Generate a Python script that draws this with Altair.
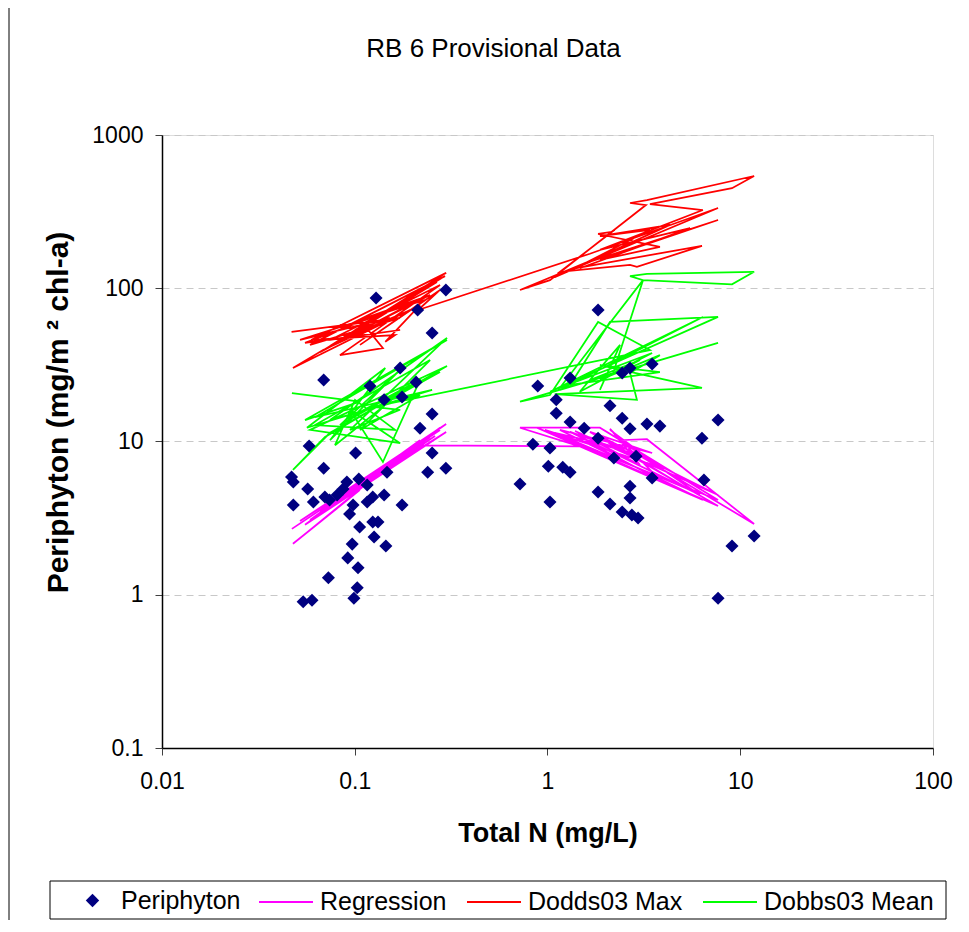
import altair as alt
import pandas as pd

FONT = "Liberation Sans"

# ---- Periphyton observations (Total N mg/L, chl-a mg/m2) ----
peri_x = [0.218, 0.058, 0.101, 0.252, 0.297, 0.239, 0.069, 0.147, 0.047, 0.048,
          0.057, 0.091, 0.105, 0.116, 0.087, 0.081, 0.070, 0.074, 0.061, 0.048,
          0.116, 0.124, 0.142, 0.176, 0.098, 0.094, 0.106, 0.124, 0.132, 0.126,
          0.145, 0.097, 0.092, 0.104, 0.073, 0.103, 0.099, 0.054, 0.060, 0.129,
          0.297, 0.212, 0.252, 0.069, 0.172, 0.120, 0.208, 0.142, 0.176, 0.252,
          0.89, 1.31, 1.11, 1.11, 1.31, 1.55, 1.83, 2.11, 2.44, 2.68,
          2.44, 2.68, 3.49, 3.28, 3.83, 7.67, 6.33, 0.84, 1.03, 1.01,
          1.20, 1.31, 2.21, 2.88, 3.49, 6.48, 0.72, 1.03, 1.83, 2.11,
          2.68, 2.68, 2.44, 2.74, 2.95, 11.8, 9.06, 7.67, 1.83]
peri_y = [12.2, 9.35, 8.4, 8.4, 6.7, 6.3, 6.7, 6.3, 5.87, 5.44,
          4.9, 5.44, 5.7, 5.2, 4.9, 4.48, 4.35, 4.15, 4.03, 3.85,
          4.03, 4.35, 4.48, 3.85, 3.85, 3.36, 2.77, 2.98, 2.98, 2.38,
          2.08, 2.14, 1.74, 1.50, 1.29, 1.11, 0.95, 0.90, 0.92, 86.4,
          97.5, 72.1, 51.0, 25.2, 30.2, 23.0, 24.4, 18.7, 19.5, 15.1,
          23.0, 26.0, 18.7, 15.3, 13.4, 12.2, 10.5, 17.1, 14.2, 12.1,
          28.0, 30.2, 32.0, 13.0, 12.6, 13.8, 10.5, 9.6, 9.07, 6.9,
          6.8, 6.3, 7.8, 8.0, 5.78, 5.6, 5.28, 4.03, 4.68, 3.91,
          5.1, 4.28, 3.47, 3.31, 3.17, 2.42, 2.08, 0.95, 72.1]

# ---- Regression line (in data order) ----
reg_x = [0.0472, 0.277, 0.052, 0.298, 0.0586, 0.218, 0.0478, 0.1065, 0.0744, 0.298,
         0.0552, 0.172, 0.0838, 0.246, 0.066, 0.135, 0.0945, 0.277, 0.0622, 0.194,
         0.089, 0.152, 0.0701, 0.261, 0.1003, 0.226,
         1.47, 0.72, 1.87, 7.67, 0.881, 6.40, 1.16, 3.49, 1.66, 7.67,
         0.97, 3.83, 2.11, 3.40, 1.31, 6.18, 2.38, 3.28, 11.8, 2.68,
         1.09, 5.49, 1.87, 7.67, 1.39, 3.02, 2.11, 3.83, 1.56, 3.02]
reg_y = [2.69, 11.9, 3.03, 13.0, 3.08, 10.2, 2.15, 4.83, 3.85, 11.55,
         2.86, 8.16, 4.15, 10.7, 3.47, 6.52, 4.48, 12.3, 3.17, 9.07,
         4.28, 7.35, 3.57, 10.85, 4.83, 9.45,
         9.3, 12.3, 12.3, 4.15, 12.3, 4.15, 11.9, 8.41, 11.55, 3.79,
         11.9, 6.82, 11.9, 7.57, 11.55, 4.48, 10.2, 10.35, 2.90, 8.80,
         11.4, 4.83, 10.85, 4.48, 11.7, 7.02, 12.1, 5.61, 10.2, 8.16]

# ---- Dodds03 Max ----
max_x = [0.047, 0.172, 0.0586, 0.294, 0.066, 0.213, 0.0552, 0.172, 0.0744, 0.277,
         0.0838, 0.140, 0.1065, 0.246, 0.0744, 0.298, 0.0593, 0.162, 0.144, 0.218,
         0.0478, 0.0685, 0.194, 0.089, 0.267, 0.1003, 0.152, 0.052, 0.231, 0.1065,
         0.277, 0.213,
         1.66, 7.67, 1.66, 7.67, 1.87, 3.83, 1.83, 2.16, 1.16, 2.68,
         2.91, 6.33, 1.39, 3.40, 1.87, 4.32, 1.09, 3.02, 0.72, 1.03,
         3.24, 2.68, 3.28, 11.8, 9.06, 3.40, 6.40, 1.87, 5.49, 1.47]
max_y = [52, 64, 42.7, 120, 38.3, 83.8, 44, 53.4, 46, 105,
         36.6, 40.7, 62.1, 90.4, 42.0, 126, 46, 49.5, 44.7, 77.7,
         30.2, 39.5, 72.1, 47.4, 110, 53.4, 64.0, 46, 83.8, 42.7,
         97.5, 72.1,
         168, 334, 149, 279, 153, 186, 226, 233, 128, 142,
         138, 189, 135, 240, 219, 259, 118, 206, 97.5, 113,
         349, 360, 376, 540, 450, 354, 324, 178, 247, 135]

# ---- Dobbs03 Mean ----
mean_x = [0.0472, 0.1065, 0.0552, 0.301, 0.0622, 0.252, 0.0565, 0.144, 0.0744, 0.176,
          0.0838, 0.218, 0.140, 0.0945, 0.172, 0.0586, 0.301, 0.0701, 0.0478, 0.0744,
          0.277, 0.089, 0.194, 0.079, 0.1003, 0.162, 0.0622, 0.246, 0.1065, 0.218,
          0.0744, 0.301, 0.0945, 0.172, 0.124,
          3.40, 1.83, 1.03, 0.72, 7.67, 1.16, 6.40, 1.03, 7.67, 2.11,
          1.31, 3.83, 1.87, 6.33, 1.09, 2.91, 2.68, 3.83, 1.87, 3.49,
          1.16, 3.13, 2.68, 3.28, 11.8, 9.06, 3.13, 2.19, 1.66, 3.02,
          1.47, 2.38, 1.87]
mean_y = [20.7, 18.2, 13.8, 46, 14.4, 21.7, 12.3, 30.2, 10.2, 30.2,
          12.8, 25.2, 7.35, 16.1, 9.75, 11.9, 31.1, 10.7, 6.52, 11.4,
          28.4, 13.8, 23.4, 9.46, 18.7, 11.9, 12.8, 34.0, 11.9, 20.1,
          13.8, 47.4, 11.9, 16.1, 16.8,
          39.5, 60.3, 20.1, 18.2, 44.0, 21.7, 65.0, 21.1, 65.0, 60.3,
          23.4, 28.4, 31.5, 22.4, 20.4, 18.7, 28.0, 36.6, 25.2, 37.8,
          22.4, 113, 120, 124, 128, 106, 113, 28.0, 25.2, 34.0,
          21.1, 42.7, 21.7]

series_names = ["Regression", "Dodds03 Max", "Dobbs03 Mean"]
series_colors = ["#FF00FF", "#FF0000", "#00FF00"]
x_ticks = [0.01, 0.1, 1, 10, 100]
y_ticks = [0.1, 1, 10, 100, 1000]

rows = []
for name, xs, ys in zip(series_names, [reg_x, max_x, mean_x], [reg_y, max_y, mean_y]):
    for i, (a, b) in enumerate(zip(xs, ys)):
        rows.append({"series": name, "x": a, "y": b, "ord": i})
lines_df = pd.DataFrame(rows)
pts_df = pd.DataFrame({"x": peri_x, "y": peri_y, "kind": ["Periphyton"] * len(peri_x)})

xscale = alt.Scale(type="log", domain=[0.01, 100], nice=False)
yscale = alt.Scale(type="log", domain=[0.1, 1000], nice=False)

xaxis = alt.Axis(values=x_ticks, format="~g", title="Total N (mg/L)", grid=False,
                 tickSize=7, labelPadding=15, labelFontSize=23, labelFont=FONT,
                 titleFont=FONT, titleFontSize=27, titleFontWeight="bold",
                 titleY=85, titleBaseline="middle",
                 labelColor="black", titleColor="black", domainColor="black",
                 domainWidth=1.5, tickColor="#404040", labelFlush=False)
yaxis = alt.Axis(values=y_ticks, format="~g", title="Periphyton (mg/m ² chl-a)",
                 grid=True, gridDash=[7, 5], gridColor="#c8c8c8", gridWidth=1,
                 tickSize=7, labelPadding=12, labelFontSize=23, labelFont=FONT,
                 titleFont=FONT, titleFontSize=30, titleFontWeight="bold",
                 titleX=-104, titleY=277, titleBaseline="middle",
                 labelColor="black", titleColor="black", domainColor="black",
                 domainWidth=1.5, tickColor="#404040")

lines = alt.Chart(lines_df).mark_line(strokeWidth=1.75).encode(
    x=alt.X("x:Q", scale=xscale, axis=xaxis),
    y=alt.Y("y:Q", scale=yscale, axis=yaxis),
    color=alt.Color("series:N",
                    scale=alt.Scale(domain=series_names, range=series_colors),
                    legend=alt.Legend(title=None, orient="none", legendX=96, legendY=739,
                                      direction="horizontal", symbolType="stroke",
                                      symbolSize=2916, symbolStrokeWidth=2,
                                      labelFontSize=25, labelFont=FONT, labelColor="black",
                                      labelLimit=400, labelOffset=6, columnPadding=16,
                                      padding=0)),
    order=alt.Order("ord:Q"),
)

points = alt.Chart(pts_df).mark_point(filled=True, color="#000080", size=170, opacity=1).encode(
    x=alt.X("x:Q", scale=xscale, axis=xaxis),
    y=alt.Y("y:Q", scale=yscale, axis=yaxis),
    shape=alt.Shape("kind:N", scale=alt.Scale(domain=["Periphyton"], range=["diamond"]),
                    legend=alt.Legend(title=None, orient="none", legendX=-82, legendY=753,
                                      symbolSize=180, symbolFillColor="#000080",
                                      symbolStrokeColor="#000080",
                                      labelFontSize=25, labelFont=FONT, labelColor="black",
                                      labelLimit=400, labelOffset=16, padding=0)),
)

one = pd.DataFrame({"a": [0]})
legend_box = alt.Chart(one).mark_rect(fillOpacity=0, stroke="black", strokeWidth=1).encode(
    x=alt.value(-112), x2=alt.value(784), y=alt.value(746), y2=alt.value(784))
left_border = alt.Chart(one).mark_rule(color="black", strokeWidth=1).encode(
    x=alt.value(-153), y=alt.value(-135), y2=alt.value(797))

chart = alt.layer(lines, points, legend_box, left_border).properties(
    width=771, height=613,
    title=alt.Title("RB 6 Provisional Data", font=FONT, fontSize=26, fontWeight="normal",
                    color="black", anchor="middle", frame="group", offset=0,
                    baseline="middle", dx=-54, dy=75),
    autosize=alt.AutoSizeParams(type="none"),
    padding={"left": 154, "top": 127, "right": 20, "bottom": 172},
).configure_view(stroke="#808080", strokeWidth=1).configure(font=FONT, background="white")

chart.save("out.html", embed_options={"renderer": "svg", "actions": False})
